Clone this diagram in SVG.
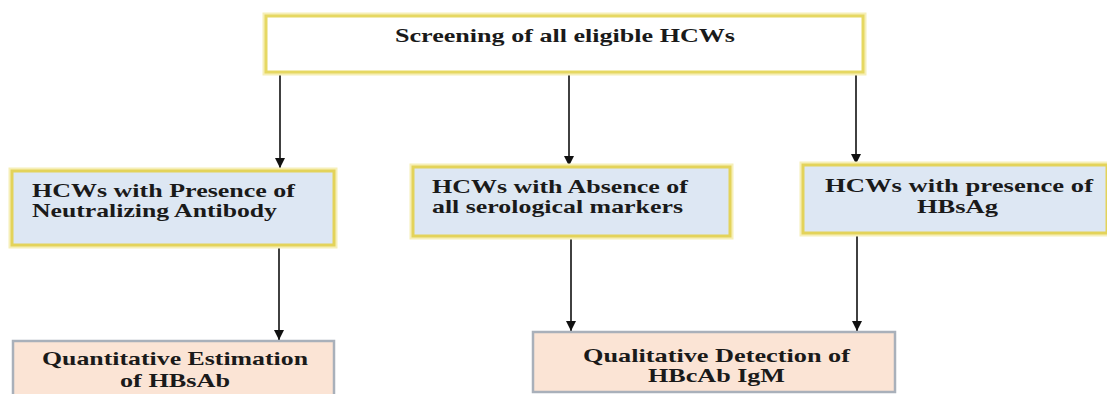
<svg xmlns="http://www.w3.org/2000/svg" width="1107" height="394" viewBox="0 0 1107 394">
<defs>
<style>
.t{font-family:"Liberation Serif","Times New Roman",serif;font-weight:bold;font-size:19px;fill:#1a1a1a}
.top{fill:#ffffff;stroke:#e6d862;stroke-width:3}
.mid{fill:#dde7f3;stroke:#e3d35a;stroke-width:3}
.bot{fill:#fbe4d5;stroke:#a9b0ba;stroke-width:2.5}
.glow{fill:none;stroke:#f6efb8;stroke-width:7}
.c{stroke:#111;stroke-width:1.6;fill:none}
</style>
<marker id="ah" markerUnits="userSpaceOnUse" markerWidth="11" markerHeight="12" refX="10" refY="6" orient="auto" viewBox="0 0 11 12">
<path d="M0,1 L10,6 L0,11 Z" fill="#111"/>
</marker>
</defs>
<rect width="1107" height="394" fill="#ffffff"/>
<g id="connectors">
<line class="c" x1="280" y1="73" x2="280" y2="168" marker-end="url(#ah)"/>
<line class="c" x1="569" y1="73" x2="569" y2="166" marker-end="url(#ah)"/>
<line class="c" x1="856" y1="73" x2="856" y2="164" marker-end="url(#ah)"/>
<line class="c" x1="279" y1="246" x2="279" y2="340" marker-end="url(#ah)"/>
<line class="c" x1="571" y1="237" x2="571" y2="331" marker-end="url(#ah)"/>
<line class="c" x1="857" y1="234" x2="857" y2="331" marker-end="url(#ah)"/>
</g>
<g id="screening">
<rect class="glow" x="266" y="16" width="597" height="56"/>
<rect class="top" x="266" y="16" width="597" height="56"/>
<text class="t" x="395" y="42" textLength="340" lengthAdjust="spacingAndGlyphs">Screening of all eligible HCWs</text>
</g>
<g id="neutralizing">
<rect class="glow" x="12" y="171" width="322" height="74"/>
<rect class="mid" x="12" y="171" width="322" height="74"/>
<text class="t" x="32" y="197" textLength="263" lengthAdjust="spacingAndGlyphs">HCWs with Presence of</text>
<text class="t" x="32" y="217" textLength="245" lengthAdjust="spacingAndGlyphs">Neutralizing Antibody</text>
</g>
<g id="absence">
<rect class="glow" x="413" y="167" width="317" height="69"/>
<rect class="mid" x="413" y="167" width="317" height="69"/>
<text class="t" x="432" y="193" textLength="256" lengthAdjust="spacingAndGlyphs">HCWs with Absence of</text>
<text class="t" x="432" y="213" textLength="251" lengthAdjust="spacingAndGlyphs">all serological markers</text>
</g>
<g id="hbsag">
<rect class="glow" x="803" y="165" width="304" height="68"/>
<rect class="mid" x="803" y="165" width="304" height="68"/>
<text class="t" x="825" y="192" textLength="268" lengthAdjust="spacingAndGlyphs">HCWs with presence of</text>
<text class="t" x="917" y="213" textLength="81" lengthAdjust="spacingAndGlyphs">HBsAg</text>
</g>
<g id="quantitative">
<rect class="bot" x="13" y="341" width="321" height="60"/>
<text class="t" x="42" y="365" textLength="266" lengthAdjust="spacingAndGlyphs">Quantitative Estimation</text>
<text class="t" x="120" y="387" textLength="110" lengthAdjust="spacingAndGlyphs">of HBsAb</text>
</g>
<g id="qualitative">
<rect class="bot" x="533" y="332" width="362" height="60"/>
<text class="t" x="583" y="362" textLength="267" lengthAdjust="spacingAndGlyphs">Qualitative Detection of</text>
<text class="t" x="648" y="382" textLength="137" lengthAdjust="spacingAndGlyphs">HBcAb IgM</text>
</g>
</svg>
